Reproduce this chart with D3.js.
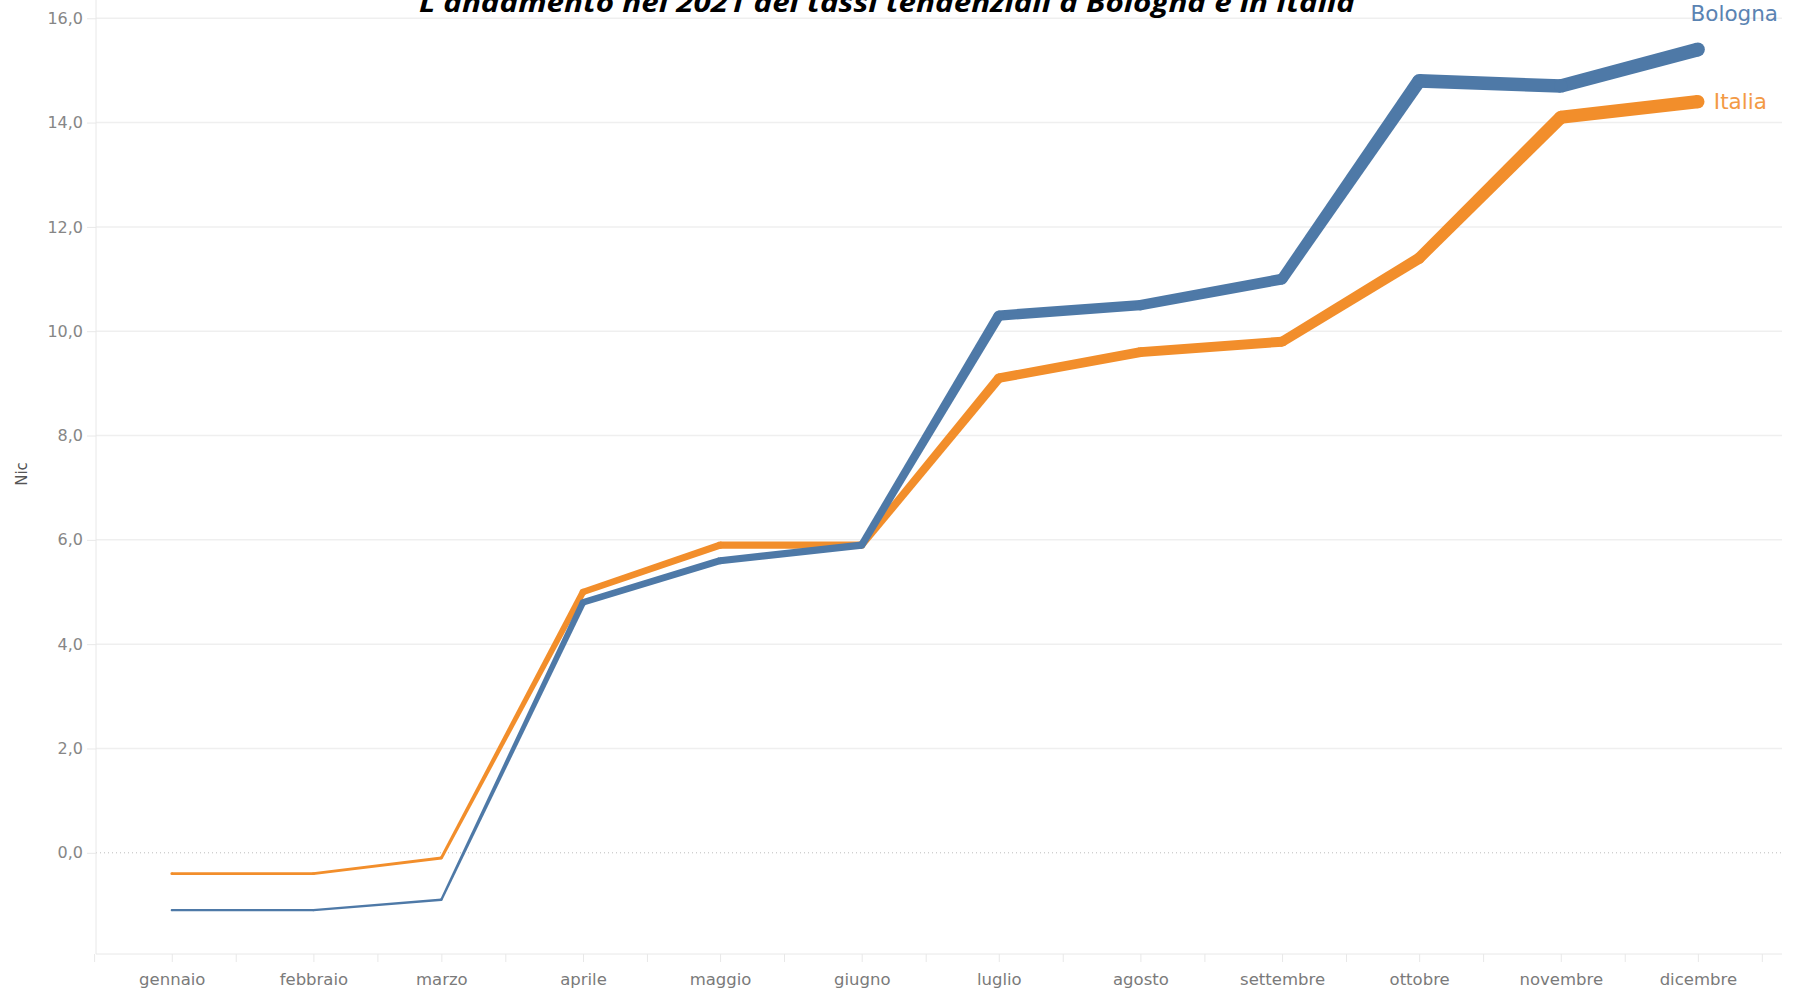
<!DOCTYPE html>
<html>
<head>
<meta charset="utf-8">
<script src="https://cdn.jsdelivr.net/npm/d3@7"></script>
<style>
  html, body { margin: 0; padding: 0; background: #fff; overflow: hidden; }
  svg { display: block; }
</style>
</head>
<body>
<div id="chart"></div>
<script>
// dati: tassi tendenziali Nic 2021
const months = ["gennaio", "febbraio", "marzo", "aprile", "maggio", "giugno",
                "luglio", "agosto", "settembre", "ottobre", "novembre", "dicembre"];
const bologna = [-1.1, -1.1, -0.9, 4.8, 5.6, 5.9, 10.3, 10.5, 11.0, 14.8, 14.7, 15.4];
const italia = [-0.4, -0.4, -0.1, 5.0, 5.9, 5.9, 9.1, 9.6, 9.8, 11.4, 14.1, 14.4];
const yTicks = [0, 2, 4, 6, 8, 10, 12, 14, 16];
const seriesNames = ["Italia", "Bologna"];
const seriesColors = ["#f28e2b", "#4e79a7"];

const width = 1797;
const height = 990;
const plotLeft = 96, plotRight = 1782, plotTop = 0, plotBottom = 954;

const svg = d3.select("#chart")
    .append("svg")
    .attr("width", width)
    .attr("height", height);

const dates = months.map((m, i) => new Date(Date.UTC(2021, i, 1)));

const x = d3.scaleUtc()
    .domain([new Date(Date.UTC(2020, 11, 15, 10)), new Date(Date.UTC(2021, 11, 19, 10))])
    .range([plotLeft, plotRight]);

const y = d3.scaleLinear()
    .domain([-1.94, 16.35])
    .range([plotBottom, plotTop]);

const allValues = bologna.concat(italia);
const size = d3.scaleLinear()
    .domain(d3.extent(allValues))
    .range([2.2, 14]);

const fmt = d3.formatLocale({ decimal: ",", thousands: ".", grouping: [3], currency: ["€", ""] }).format(".1f");

// griglia
svg.append("g")
    .selectAll("line")
    .data(yTicks.filter(d => d !== 0))
    .enter().append("line")
    .attr("x1", plotLeft).attr("x2", plotRight)
    .attr("y1", d => y(d)).attr("y2", d => y(d))
    .attr("stroke", "#efefef")
    .attr("stroke-width", 1.5);

svg.append("line")
    .attr("x1", plotLeft).attr("x2", plotRight)
    .attr("y1", y(0)).attr("y2", y(0))
    .attr("stroke", "#bdbdbd")
    .attr("stroke-width", 1)
    .attr("stroke-dasharray", "1,3");

// asse y
const yAxis = svg.append("g")
    .attr("transform", `translate(${plotLeft},0)`)
    .call(d3.axisLeft(y).tickValues(yTicks).tickFormat(fmt).tickSize(9).tickPadding(4));
yAxis.select(".domain").attr("stroke", "#e8e8e8").attr("d", `M0,${plotTop}V${plotBottom}`);
yAxis.selectAll(".tick line").attr("stroke", "#e8e8e8");
yAxis.selectAll(".tick text")
    .attr("fill", "#868686")
    .style("font-family", "'DejaVu Sans', sans-serif")
    .style("font-size", "16px");

// asse x
const xTickDates = [new Date(Date.UTC(2020, 11, 15))];
dates.forEach(d => {
    xTickDates.push(d);
    xTickDates.push(new Date(Date.UTC(2021, d.getUTCMonth(), 15)));
});
const xAxis = svg.append("g")
    .attr("transform", `translate(0,${plotBottom})`)
    .call(d3.axisBottom(x).tickValues(xTickDates).tickSize(8)
        .tickFormat(d => d.getUTCDate() === 1 ? months[d.getUTCMonth()] : ""));
xAxis.select(".domain").attr("stroke", "#e8e8e8").attr("d", `M${plotLeft},0H${plotRight}`);
xAxis.selectAll(".tick line").attr("stroke", "#e8e8e8");
xAxis.selectAll(".tick text")
    .attr("y", 31)
    .attr("dy", 0)
    .attr("fill", "#7a7a7a")
    .style("font-family", "'DejaVu Sans', sans-serif")
    .style("font-size", "16.5px");

// titolo asse y
svg.append("text")
    .attr("transform", `translate(27,474) rotate(-90)`)
    .attr("text-anchor", "middle")
    .attr("fill", "#555")
    .style("font-family", "'DejaVu Sans', sans-serif")
    .style("font-size", "15px")
    .text("Nic");

// linee con spessore variabile
function drawSeries(values, color) {
    const pts = values.map((v, i) => ({ x: x(dates[i]), y: y(v), w: size(v) }));
    const g = svg.append("g").attr("fill", color);
    const segs = d3.pairs(pts);
    g.selectAll("path")
        .data(segs)
        .enter().append("path")
        .attr("d", ([a, b]) => {
            const dx = b.x - a.x, dy = b.y - a.y;
            const len = Math.hypot(dx, dy);
            const nx = -dy / len, ny = dx / len;
            return `M${a.x + nx * a.w / 2},${a.y + ny * a.w / 2}` +
                `L${b.x + nx * b.w / 2},${b.y + ny * b.w / 2}` +
                `L${b.x - nx * b.w / 2},${b.y - ny * b.w / 2}` +
                `L${a.x - nx * a.w / 2},${a.y - ny * a.w / 2}Z`;
        });
    g.selectAll("circle")
        .data(pts)
        .enter().append("circle")
        .attr("cx", d => d.x)
        .attr("cy", d => d.y)
        .attr("r", d => d.w / 2);
}

drawSeries(italia, seriesColors[0]);
drawSeries(bologna, seriesColors[1]);

// etichette finali
const last = months.length - 1;
svg.append("text")
    .attr("x", plotRight - 4)
    .attr("y", 21)
    .attr("text-anchor", "end")
    .attr("fill", "#5a83b2")
    .style("font-family", "'DejaVu Sans', sans-serif")
    .style("font-size", "21.5px")
    .text(seriesNames[1]);

svg.append("text")
    .attr("x", x(dates[last]) + 16)
    .attr("y", y(italia[last]))
    .attr("dy", "0.36em")
    .attr("fill", "#f39a45")
    .style("font-family", "'DejaVu Sans', sans-serif")
    .style("font-size", "21.5px")
    .text(seriesNames[0]);

// titolo
svg.append("text")
    .attr("x", 887)
    .attr("y", 12)
    .attr("text-anchor", "middle")
    .attr("textLength", 936)
    .attr("lengthAdjust", "spacingAndGlyphs")
    .attr("fill", "#000")
    .style("font-family", "'Open Sans', sans-serif")
    .style("font-size", "27px")
    .style("font-weight", "bold")
    .style("font-style", "italic")
    .text("L'andamento nel 2021 dei tassi tendenziali a Bologna e in Italia");
</script>
</body>
</html>
